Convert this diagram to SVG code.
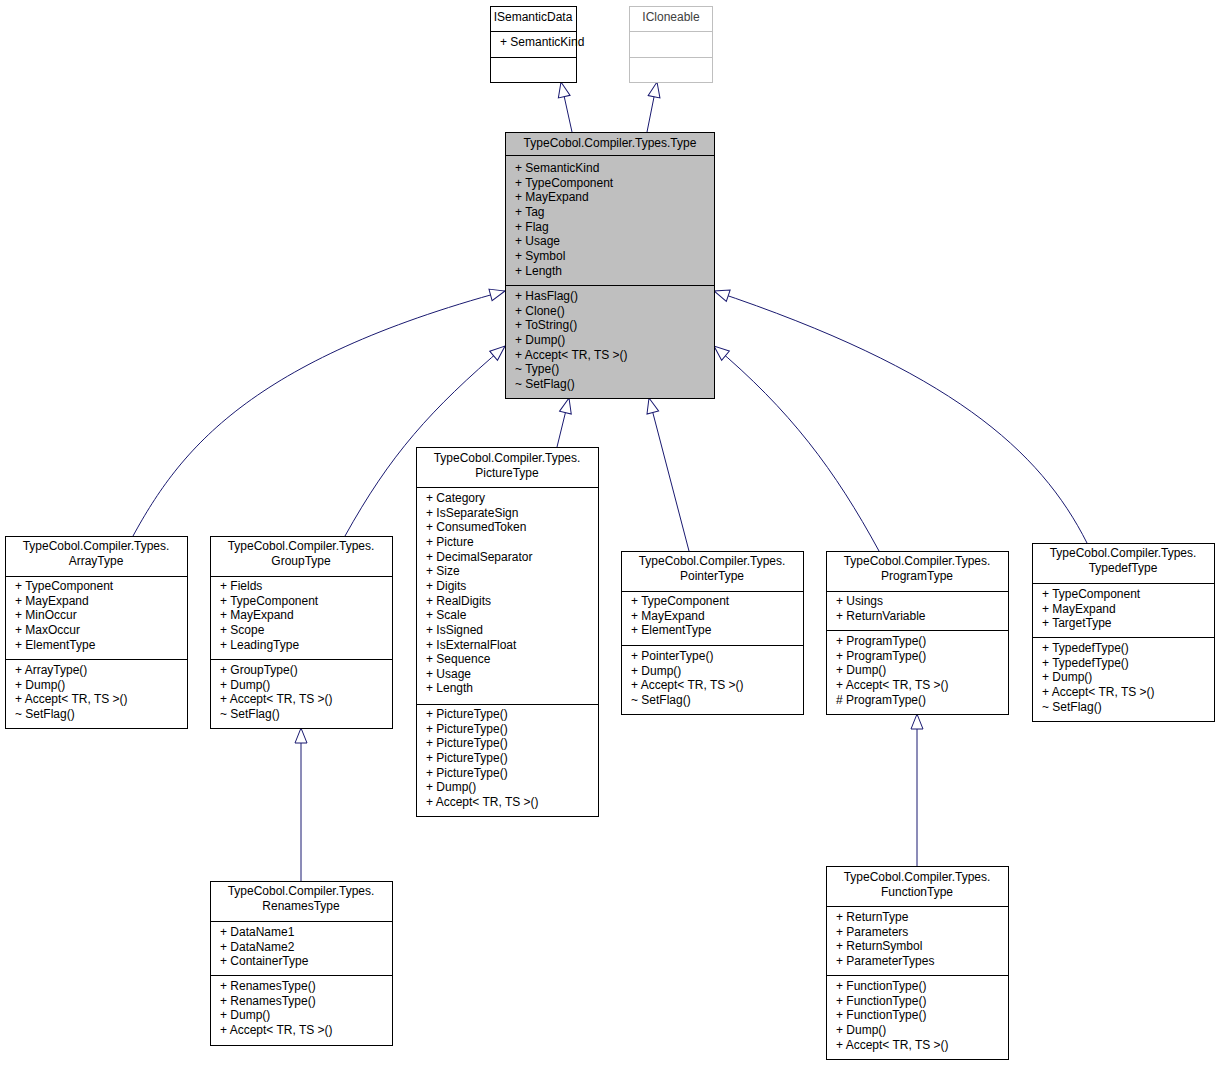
<svg xmlns="http://www.w3.org/2000/svg" width="1219" height="1065" viewBox="0 0 1219 1065">
<style>
rect{fill:#fff;stroke:#000;stroke-width:1}
line.d{stroke:#000;stroke-width:1}
text{font-family:"Liberation Sans",Arial,sans-serif;font-size:12px;fill:#000}
.c{text-anchor:middle}
#conn path{fill:none;stroke:#191970;stroke-width:1}
</style>
<defs>
<marker id="tri" markerUnits="userSpaceOnUse" markerWidth="20" markerHeight="16" viewBox="0 0 20 16" refX="16" refY="8" orient="auto">
<path d="M1,2 L16,8 L1,14 Z" fill="#fff" stroke="#191970" stroke-width="1"/>
</marker>
</defs>
<rect x="0" y="0" width="1219" height="1065" style="stroke:none"/>
<g id="conn">
<path d="M572,132 L561,82" marker-end="url(#tri)"/>
<path d="M647,132 L657,82" marker-end="url(#tri)"/>
<path d="M133,536 C180,450 250,360 505,291" marker-end="url(#tri)"/>
<path d="M345,536 C390,455 430,410 505,346" marker-end="url(#tri)"/>
<path d="M557,447 L569,398" marker-end="url(#tri)"/>
<path d="M689,551 L649,398" marker-end="url(#tri)"/>
<path d="M879,551 C835,470 790,410 714,346" marker-end="url(#tri)"/>
<path d="M1087,543 C1040,450 950,370 714,291" marker-end="url(#tri)"/>
<path d="M301,881 L301,728" marker-end="url(#tri)"/>
<path d="M917,866 L917,714" marker-end="url(#tri)"/>
</g>
<g id="ISemanticData">
<rect x="490.5" y="6.5" width="86" height="76"/>
<line class="d" x1="490.5" y1="31.5" x2="576.5" y2="31.5"/><line class="d" x1="490.5" y1="57.5" x2="576.5" y2="57.5"/>
<text x="533" y="21" class="c">ISemanticData</text>
<text x="500" y="46">+ SemanticKind</text>
</g>
<g id="ICloneable">
<rect x="629.5" y="6.5" width="83" height="76" style="stroke:#bfbfbf"/>
<line x1="629.5" y1="31.5" x2="712.5" y2="31.5" stroke="#bfbfbf"/><line x1="629.5" y1="57.5" x2="712.5" y2="57.5" stroke="#bfbfbf"/>
<text x="671" y="21" class="c" style="fill:#404040">ICloneable</text>
</g>
<g id="Type">
<rect x="505.5" y="132.5" width="209" height="266" style="fill:#bfbfbf"/>
<line class="d" x1="505.5" y1="155.5" x2="714.5" y2="155.5"/><line class="d" x1="505.5" y1="285.5" x2="714.5" y2="285.5"/>
<text x="610" y="147" class="c">TypeCobol.Compiler.Types.Type</text>
<text y="172"><tspan x="515">+ SemanticKind</tspan><tspan x="515" dy="14.65">+ TypeComponent</tspan><tspan x="515" dy="14.65">+ MayExpand</tspan><tspan x="515" dy="14.65">+ Tag</tspan><tspan x="515" dy="14.65">+ Flag</tspan><tspan x="515" dy="14.65">+ Usage</tspan><tspan x="515" dy="14.65">+ Symbol</tspan><tspan x="515" dy="14.65">+ Length</tspan></text>
<text y="300"><tspan x="515">+ HasFlag()</tspan><tspan x="515" dy="14.65">+ Clone()</tspan><tspan x="515" dy="14.65">+ ToString()</tspan><tspan x="515" dy="14.65">+ Dump()</tspan><tspan x="515" dy="14.65">+ Accept&lt; TR, TS &gt;()</tspan><tspan x="515" dy="14.65">~ Type()</tspan><tspan x="515" dy="14.65">~ SetFlag()</tspan></text>
</g>
<g id="ArrayType">
<rect x="5.5" y="536.5" width="182" height="192"/>
<line class="d" x1="5.5" y1="576.5" x2="187.5" y2="576.5"/><line class="d" x1="5.5" y1="659.5" x2="187.5" y2="659.5"/>
<text y="550" class="c"><tspan x="96">TypeCobol.Compiler.Types.</tspan><tspan x="96" dy="15">ArrayType</tspan></text>
<text y="590"><tspan x="15">+ TypeComponent</tspan><tspan x="15" dy="14.65">+ MayExpand</tspan><tspan x="15" dy="14.65">+ MinOccur</tspan><tspan x="15" dy="14.65">+ MaxOccur</tspan><tspan x="15" dy="14.65">+ ElementType</tspan></text>
<text y="674"><tspan x="15">+ ArrayType()</tspan><tspan x="15" dy="14.65">+ Dump()</tspan><tspan x="15" dy="14.65">+ Accept&lt; TR, TS &gt;()</tspan><tspan x="15" dy="14.65">~ SetFlag()</tspan></text>
</g>
<g id="GroupType">
<rect x="210.5" y="536.5" width="182" height="192"/>
<line class="d" x1="210.5" y1="576.5" x2="392.5" y2="576.5"/><line class="d" x1="210.5" y1="659.5" x2="392.5" y2="659.5"/>
<text y="550" class="c"><tspan x="301">TypeCobol.Compiler.Types.</tspan><tspan x="301" dy="15">GroupType</tspan></text>
<text y="590"><tspan x="220">+ Fields</tspan><tspan x="220" dy="14.65">+ TypeComponent</tspan><tspan x="220" dy="14.65">+ MayExpand</tspan><tspan x="220" dy="14.65">+ Scope</tspan><tspan x="220" dy="14.65">+ LeadingType</tspan></text>
<text y="674"><tspan x="220">+ GroupType()</tspan><tspan x="220" dy="14.65">+ Dump()</tspan><tspan x="220" dy="14.65">+ Accept&lt; TR, TS &gt;()</tspan><tspan x="220" dy="14.65">~ SetFlag()</tspan></text>
</g>
<g id="PictureType">
<rect x="416.5" y="447.5" width="182" height="369"/>
<line class="d" x1="416.5" y1="487.5" x2="598.5" y2="487.5"/><line class="d" x1="416.5" y1="704.5" x2="598.5" y2="704.5"/>
<text y="462" class="c"><tspan x="507">TypeCobol.Compiler.Types.</tspan><tspan x="507" dy="15">PictureType</tspan></text>
<text y="502"><tspan x="426">+ Category</tspan><tspan x="426" dy="14.65">+ IsSeparateSign</tspan><tspan x="426" dy="14.65">+ ConsumedToken</tspan><tspan x="426" dy="14.65">+ Picture</tspan><tspan x="426" dy="14.65">+ DecimalSeparator</tspan><tspan x="426" dy="14.65">+ Size</tspan><tspan x="426" dy="14.65">+ Digits</tspan><tspan x="426" dy="14.65">+ RealDigits</tspan><tspan x="426" dy="14.65">+ Scale</tspan><tspan x="426" dy="14.65">+ IsSigned</tspan><tspan x="426" dy="14.65">+ IsExternalFloat</tspan><tspan x="426" dy="14.65">+ Sequence</tspan><tspan x="426" dy="14.65">+ Usage</tspan><tspan x="426" dy="14.65">+ Length</tspan></text>
<text y="718"><tspan x="426">+ PictureType()</tspan><tspan x="426" dy="14.65">+ PictureType()</tspan><tspan x="426" dy="14.65">+ PictureType()</tspan><tspan x="426" dy="14.65">+ PictureType()</tspan><tspan x="426" dy="14.65">+ PictureType()</tspan><tspan x="426" dy="14.65">+ Dump()</tspan><tspan x="426" dy="14.65">+ Accept&lt; TR, TS &gt;()</tspan></text>
</g>
<g id="PointerType">
<rect x="621.5" y="551.5" width="182" height="163"/>
<line class="d" x1="621.5" y1="591.5" x2="803.5" y2="591.5"/><line class="d" x1="621.5" y1="645.5" x2="803.5" y2="645.5"/>
<text y="565" class="c"><tspan x="712">TypeCobol.Compiler.Types.</tspan><tspan x="712" dy="15">PointerType</tspan></text>
<text y="605"><tspan x="631">+ TypeComponent</tspan><tspan x="631" dy="14.65">+ MayExpand</tspan><tspan x="631" dy="14.65">+ ElementType</tspan></text>
<text y="660"><tspan x="631">+ PointerType()</tspan><tspan x="631" dy="14.65">+ Dump()</tspan><tspan x="631" dy="14.65">+ Accept&lt; TR, TS &gt;()</tspan><tspan x="631" dy="14.65">~ SetFlag()</tspan></text>
</g>
<g id="ProgramType">
<rect x="826.5" y="551.5" width="182" height="163"/>
<line class="d" x1="826.5" y1="591.5" x2="1008.5" y2="591.5"/><line class="d" x1="826.5" y1="630.5" x2="1008.5" y2="630.5"/>
<text y="565" class="c"><tspan x="917">TypeCobol.Compiler.Types.</tspan><tspan x="917" dy="15">ProgramType</tspan></text>
<text y="605"><tspan x="836">+ Usings</tspan><tspan x="836" dy="14.65">+ ReturnVariable</tspan></text>
<text y="645"><tspan x="836">+ ProgramType()</tspan><tspan x="836" dy="14.65">+ ProgramType()</tspan><tspan x="836" dy="14.65">+ Dump()</tspan><tspan x="836" dy="14.65">+ Accept&lt; TR, TS &gt;()</tspan><tspan x="836" dy="14.65"># ProgramType()</tspan></text>
</g>
<g id="TypedefType">
<rect x="1032.5" y="543.5" width="182" height="178"/>
<line class="d" x1="1032.5" y1="583.5" x2="1214.5" y2="583.5"/><line class="d" x1="1032.5" y1="637.5" x2="1214.5" y2="637.5"/>
<text y="557" class="c"><tspan x="1123">TypeCobol.Compiler.Types.</tspan><tspan x="1123" dy="15">TypedefType</tspan></text>
<text y="598"><tspan x="1042">+ TypeComponent</tspan><tspan x="1042" dy="14.65">+ MayExpand</tspan><tspan x="1042" dy="14.65">+ TargetType</tspan></text>
<text y="652"><tspan x="1042">+ TypedefType()</tspan><tspan x="1042" dy="14.65">+ TypedefType()</tspan><tspan x="1042" dy="14.65">+ Dump()</tspan><tspan x="1042" dy="14.65">+ Accept&lt; TR, TS &gt;()</tspan><tspan x="1042" dy="14.65">~ SetFlag()</tspan></text>
</g>
<g id="RenamesType">
<rect x="210.5" y="881.5" width="182" height="164"/>
<line class="d" x1="210.5" y1="921.5" x2="392.5" y2="921.5"/><line class="d" x1="210.5" y1="975.5" x2="392.5" y2="975.5"/>
<text y="895" class="c"><tspan x="301">TypeCobol.Compiler.Types.</tspan><tspan x="301" dy="15">RenamesType</tspan></text>
<text y="936"><tspan x="220">+ DataName1</tspan><tspan x="220" dy="14.65">+ DataName2</tspan><tspan x="220" dy="14.65">+ ContainerType</tspan></text>
<text y="990"><tspan x="220">+ RenamesType()</tspan><tspan x="220" dy="14.65">+ RenamesType()</tspan><tspan x="220" dy="14.65">+ Dump()</tspan><tspan x="220" dy="14.65">+ Accept&lt; TR, TS &gt;()</tspan></text>
</g>
<g id="FunctionType">
<rect x="826.5" y="866.5" width="182" height="193"/>
<line class="d" x1="826.5" y1="906.5" x2="1008.5" y2="906.5"/><line class="d" x1="826.5" y1="975.5" x2="1008.5" y2="975.5"/>
<text y="881" class="c"><tspan x="917">TypeCobol.Compiler.Types.</tspan><tspan x="917" dy="15">FunctionType</tspan></text>
<text y="921"><tspan x="836">+ ReturnType</tspan><tspan x="836" dy="14.65">+ Parameters</tspan><tspan x="836" dy="14.65">+ ReturnSymbol</tspan><tspan x="836" dy="14.65">+ ParameterTypes</tspan></text>
<text y="990"><tspan x="836">+ FunctionType()</tspan><tspan x="836" dy="14.65">+ FunctionType()</tspan><tspan x="836" dy="14.65">+ FunctionType()</tspan><tspan x="836" dy="14.65">+ Dump()</tspan><tspan x="836" dy="14.65">+ Accept&lt; TR, TS &gt;()</tspan></text>
</g>
</svg>
